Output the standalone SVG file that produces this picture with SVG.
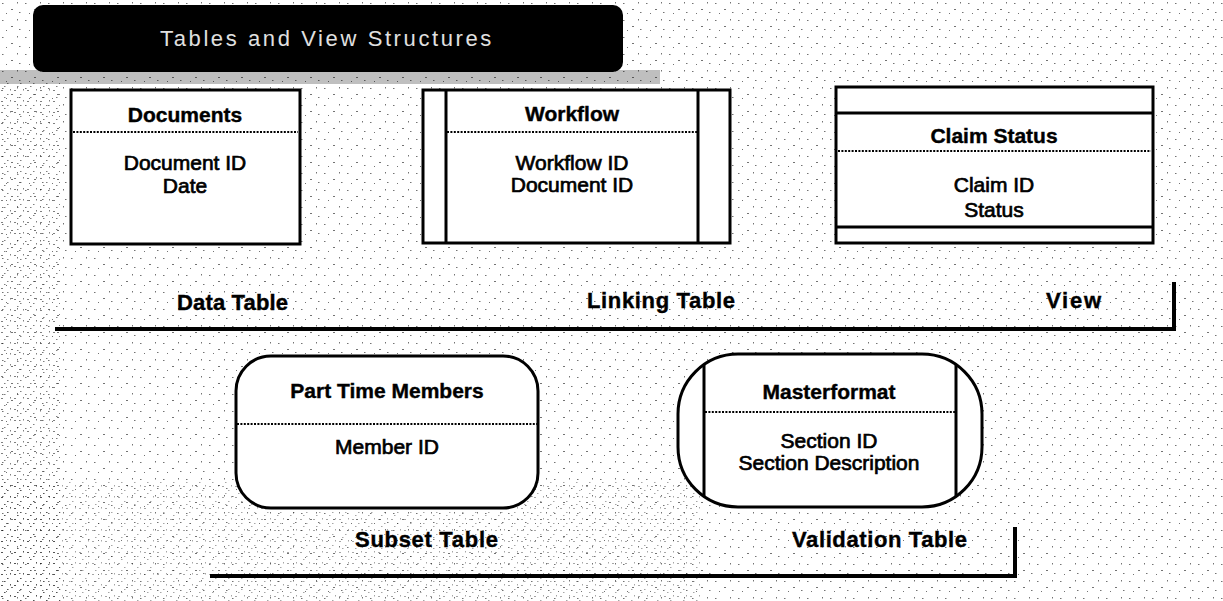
<svg xmlns="http://www.w3.org/2000/svg" width="1223" height="601" viewBox="0 0 1223 601">
<style>
.box{fill:#fff;stroke:#000;stroke-width:3}
.ln{stroke:#000;stroke-width:3;fill:none}
.dot{stroke:#000;stroke-width:2;stroke-dasharray:2 1.4;fill:none}
.hd{font-family:"Liberation Sans",Arial,sans-serif;font-weight:bold;font-size:21px;text-anchor:middle;fill:#000;stroke:#000;stroke-width:0.4}
.bd{font-family:"Liberation Sans",Arial,sans-serif;font-size:21px;text-anchor:middle;fill:#000;stroke:#000;stroke-width:0.7}
.lbl{font-family:"Liberation Sans",Arial,sans-serif;font-weight:bold;font-size:22px;fill:#000;stroke:#000;stroke-width:0.4}
.rule{stroke:#000;stroke-width:4;fill:none}
</style>
<defs>
<pattern id="noise" width="23" height="17" patternUnits="userSpaceOnUse">
<rect x="2" y="3" width="1.5" height="1" fill="#000"/>
<rect x="11" y="9" width="2" height="1" fill="#000"/>
<rect x="17" y="2" width="1" height="1.5" fill="#000"/>
<rect x="6" y="13" width="1" height="1" fill="#000"/>
<rect x="19" y="12" width="1.5" height="1" fill="#000"/>
</pattern>
<pattern id="noise2" width="13" height="11" patternUnits="userSpaceOnUse">
<rect x="1" y="2" width="2" height="1" fill="#000"/>
<rect x="7" y="6" width="1.5" height="1" fill="#000"/>
<rect x="10" y="1" width="1" height="1.5" fill="#000"/>
<rect x="4" y="9" width="1.5" height="1" fill="#000"/>
</pattern>
</defs>
<rect width="1223" height="601" fill="#fff"/>
<rect width="1223" height="601" fill="url(#noise)" opacity="0.55"/>
<rect x="0" y="80" width="60" height="521" fill="url(#noise2)" opacity="0.5"/>
<rect x="0" y="480" width="700" height="121" fill="url(#noise2)" opacity="0.35"/>
<rect x="0" y="70" width="660" height="14" fill="#000" opacity="0.25"/>

<g id="title">
<rect x="33" y="5" width="590" height="67" rx="10" fill="#000"/>
<text x="327" y="46" font-family="'Liberation Sans',Arial,sans-serif" font-size="22" letter-spacing="2.6" fill="#e0e0e0" text-anchor="middle">Tables and View Structures</text>
</g>

<g id="documents">
<rect class="box" x="71" y="90" width="229" height="154"/>
<text class="hd" x="185" y="122">Documents</text>
<line class="dot" x1="73" y1="132" x2="298" y2="132"/>
<text class="bd" x="185" y="170">Document ID</text>
<text class="bd" x="185" y="193">Date</text>
</g>

<g id="workflow">
<rect class="box" x="423" y="90" width="307" height="153"/>
<line class="ln" x1="446" y1="90" x2="446" y2="243"/>
<line class="ln" x1="698" y1="90" x2="698" y2="243"/>
<text class="hd" x="572" y="121">Workflow</text>
<line class="dot" x1="447" y1="132" x2="697" y2="132"/>
<text class="bd" x="572" y="170">Workflow ID</text>
<text class="bd" x="572" y="192">Document ID</text>
</g>

<g id="claim-status">
<rect class="box" x="836" y="87" width="317" height="156"/>
<line class="ln" x1="836" y1="113" x2="1153" y2="113"/>
<line class="ln" x1="836" y1="227" x2="1153" y2="227"/>
<text class="hd" x="994" y="143">Claim Status</text>
<line class="dot" x1="838" y1="151" x2="1151" y2="151"/>
<text class="bd" x="994" y="192">Claim ID</text>
<text class="bd" x="994" y="217">Status</text>
</g>

<g id="part-time-members">
<rect class="box" x="236" y="356" width="302" height="152" rx="35" ry="35"/>
<text class="hd" x="387" y="398">Part Time Members</text>
<line class="dot" x1="237" y1="424" x2="537" y2="424"/>
<text class="bd" x="387" y="454">Member ID</text>
</g>

<g id="masterformat">
<rect class="box" x="678" y="354" width="304" height="153" rx="60" ry="60"/>
<line class="ln" x1="704" y1="365" x2="704" y2="496"/>
<line class="ln" x1="956" y1="365" x2="956" y2="496"/>
<text class="hd" x="829" y="399">Masterformat</text>
<line class="dot" x1="705" y1="412" x2="955" y2="412"/>
<text class="bd" x="829" y="448">Section ID</text>
<text class="bd" x="829" y="470">Section Description</text>
</g>

<g id="connectors">
<polyline class="rule" points="55,329 1174,329 1174,282"/>
<polyline class="rule" points="210,576 1015,576 1015,527"/>
</g>

<g id="labels">
<text class="lbl" x="177" y="310" textLength="111">Data Table</text>
<text class="lbl" x="587" y="308" textLength="148">Linking Table</text>
<text class="lbl" x="1046" y="308" textLength="55">View</text>
<text class="lbl" x="355" y="547" textLength="143">Subset Table</text>
<text class="lbl" x="792" y="547" textLength="175">Validation Table</text>
</g>
</svg>
